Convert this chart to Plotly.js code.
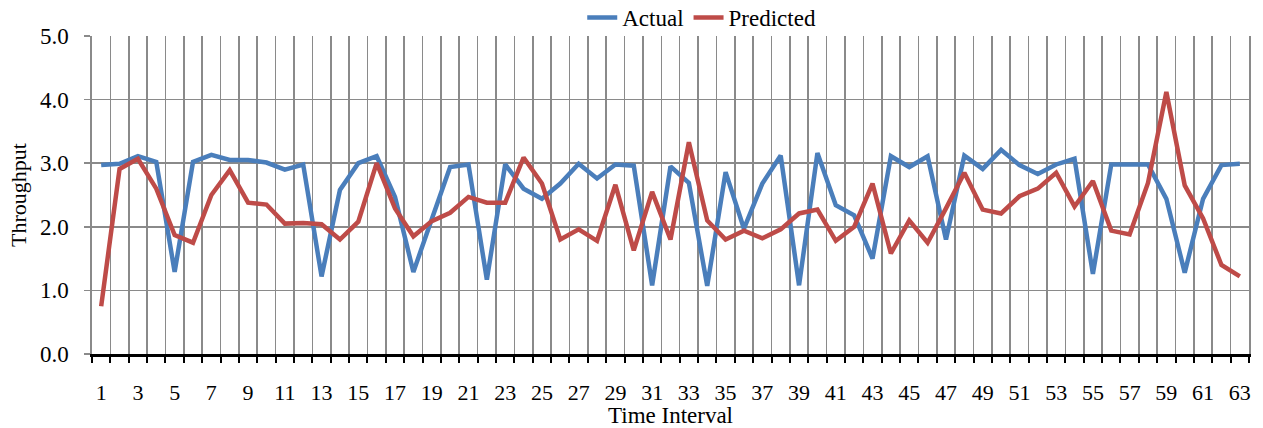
<!DOCTYPE html>
<html>
<head>
<meta charset="utf-8">
<script src="https://cdn.plot.ly/plotly-3.0.1.min.js"></script>
<style>html,body{margin:0;padding:0;background:#fff;}#chart{width:1263px;height:428px;}</style>
</head>
<body>
<div id="chart"></div>
<script>
const timeInterval = Array.from({length: 63}, (_, i) => i + 1);
const actual = [2.97,2.99,3.11,3.02,1.29,3.02,3.13,3.05,3.05,3.01,2.90,2.98,1.22,2.58,3.00,3.11,2.47,1.29,2.12,2.94,2.98,1.17,2.98,2.60,2.44,2.68,2.99,2.76,2.98,2.96,1.08,2.95,2.69,1.07,2.86,1.97,2.68,3.12,1.08,3.16,2.34,2.18,1.50,3.11,2.94,3.11,1.80,3.12,2.91,3.21,2.97,2.83,2.98,3.07,1.26,2.98,2.98,2.98,2.44,1.28,2.44,2.97,2.99];
const predicted = [0.75,2.91,3.07,2.60,1.87,1.75,2.50,2.89,2.38,2.35,2.05,2.06,2.04,1.80,2.08,3.00,2.29,1.85,2.09,2.22,2.47,2.38,2.38,3.09,2.68,1.80,1.96,1.78,2.66,1.63,2.55,1.80,3.33,2.10,1.80,1.94,1.82,1.96,2.21,2.27,1.78,2.00,2.68,1.58,2.10,1.75,2.29,2.85,2.27,2.21,2.48,2.60,2.85,2.32,2.72,1.94,1.88,2.69,4.12,2.65,2.13,1.40,1.22];
const xTickVals = timeInterval.filter(v => v % 2 === 1);
const xTickText = xTickVals.map(String);

const font = '"Liberation Serif", "Times New Roman", serif';
const traces = [
  {x: timeInterval, y: actual, name: 'Actual', type: 'scatter', mode: 'lines',
   line: {color: '#4A7EBB', width: 4.5}},
  {x: timeInterval, y: predicted, name: 'Predicted', type: 'scatter', mode: 'lines',
   line: {color: '#BE4B48', width: 4.5}}
];
const layout = {
  width: 1263, height: 428,
  margin: {l: 91.5, r: 14, t: 36, b: 74, autoexpand: false},
  paper_bgcolor: '#fff', plot_bgcolor: '#fff',
  font: {family: font, size: 22, color: '#000'},
  showlegend: true,
  legend: {orientation: 'h', x: 0.527, xanchor: 'center', y: 1.058, yanchor: 'middle',
           font: {family: font, size: 23, color: '#000'}, bgcolor: 'rgba(0,0,0,0)'},
  xaxis: {
    range: [0.5, 63.5], tickmode: 'array', tickvals: xTickVals, ticktext: xTickText,
    showgrid: false, ticks: '', zeroline: false,
    showline: true, linecolor: '#000', linewidth: 3,
    ticklabelstandoff: 17,
    tickfont: {family: font, size: 22, color: '#000'},
    title: {text: 'Time Interval', font: {family: font, size: 23, color: '#000'}, standoff: 0},
    minor: {tickmode: 'linear', tick0: 0.5, dtick: 1, showgrid: true, gridcolor: '#8a8a8a', gridwidth: 1.6,
            ticks: 'outside', ticklen: 6, tickcolor: '#000', tickwidth: 2}
  },
  yaxis: {
    range: [0, 5], dtick: 1, tick0: 0, tickformat: '.1f',
    showgrid: true, gridcolor: '#8a8a8a', gridwidth: 1.6, zeroline: false,
    showline: true, linecolor: '#8a8a8a', linewidth: 1.6, mirror: true,
    ticks: 'outside', ticklen: 6, tickcolor: '#8a8a8a', tickwidth: 1.6,
    ticklabelstandoff: 11,
    tickfont: {family: font, size: 23, color: '#000'},
    title: {text: 'Throughput', font: {family: font, size: 22, color: '#000'}, standoff: 7}
  }
};
Plotly.newPlot('chart', traces, layout, {displayModeBar: false, staticPlot: true});
</script>
</body>
</html>
